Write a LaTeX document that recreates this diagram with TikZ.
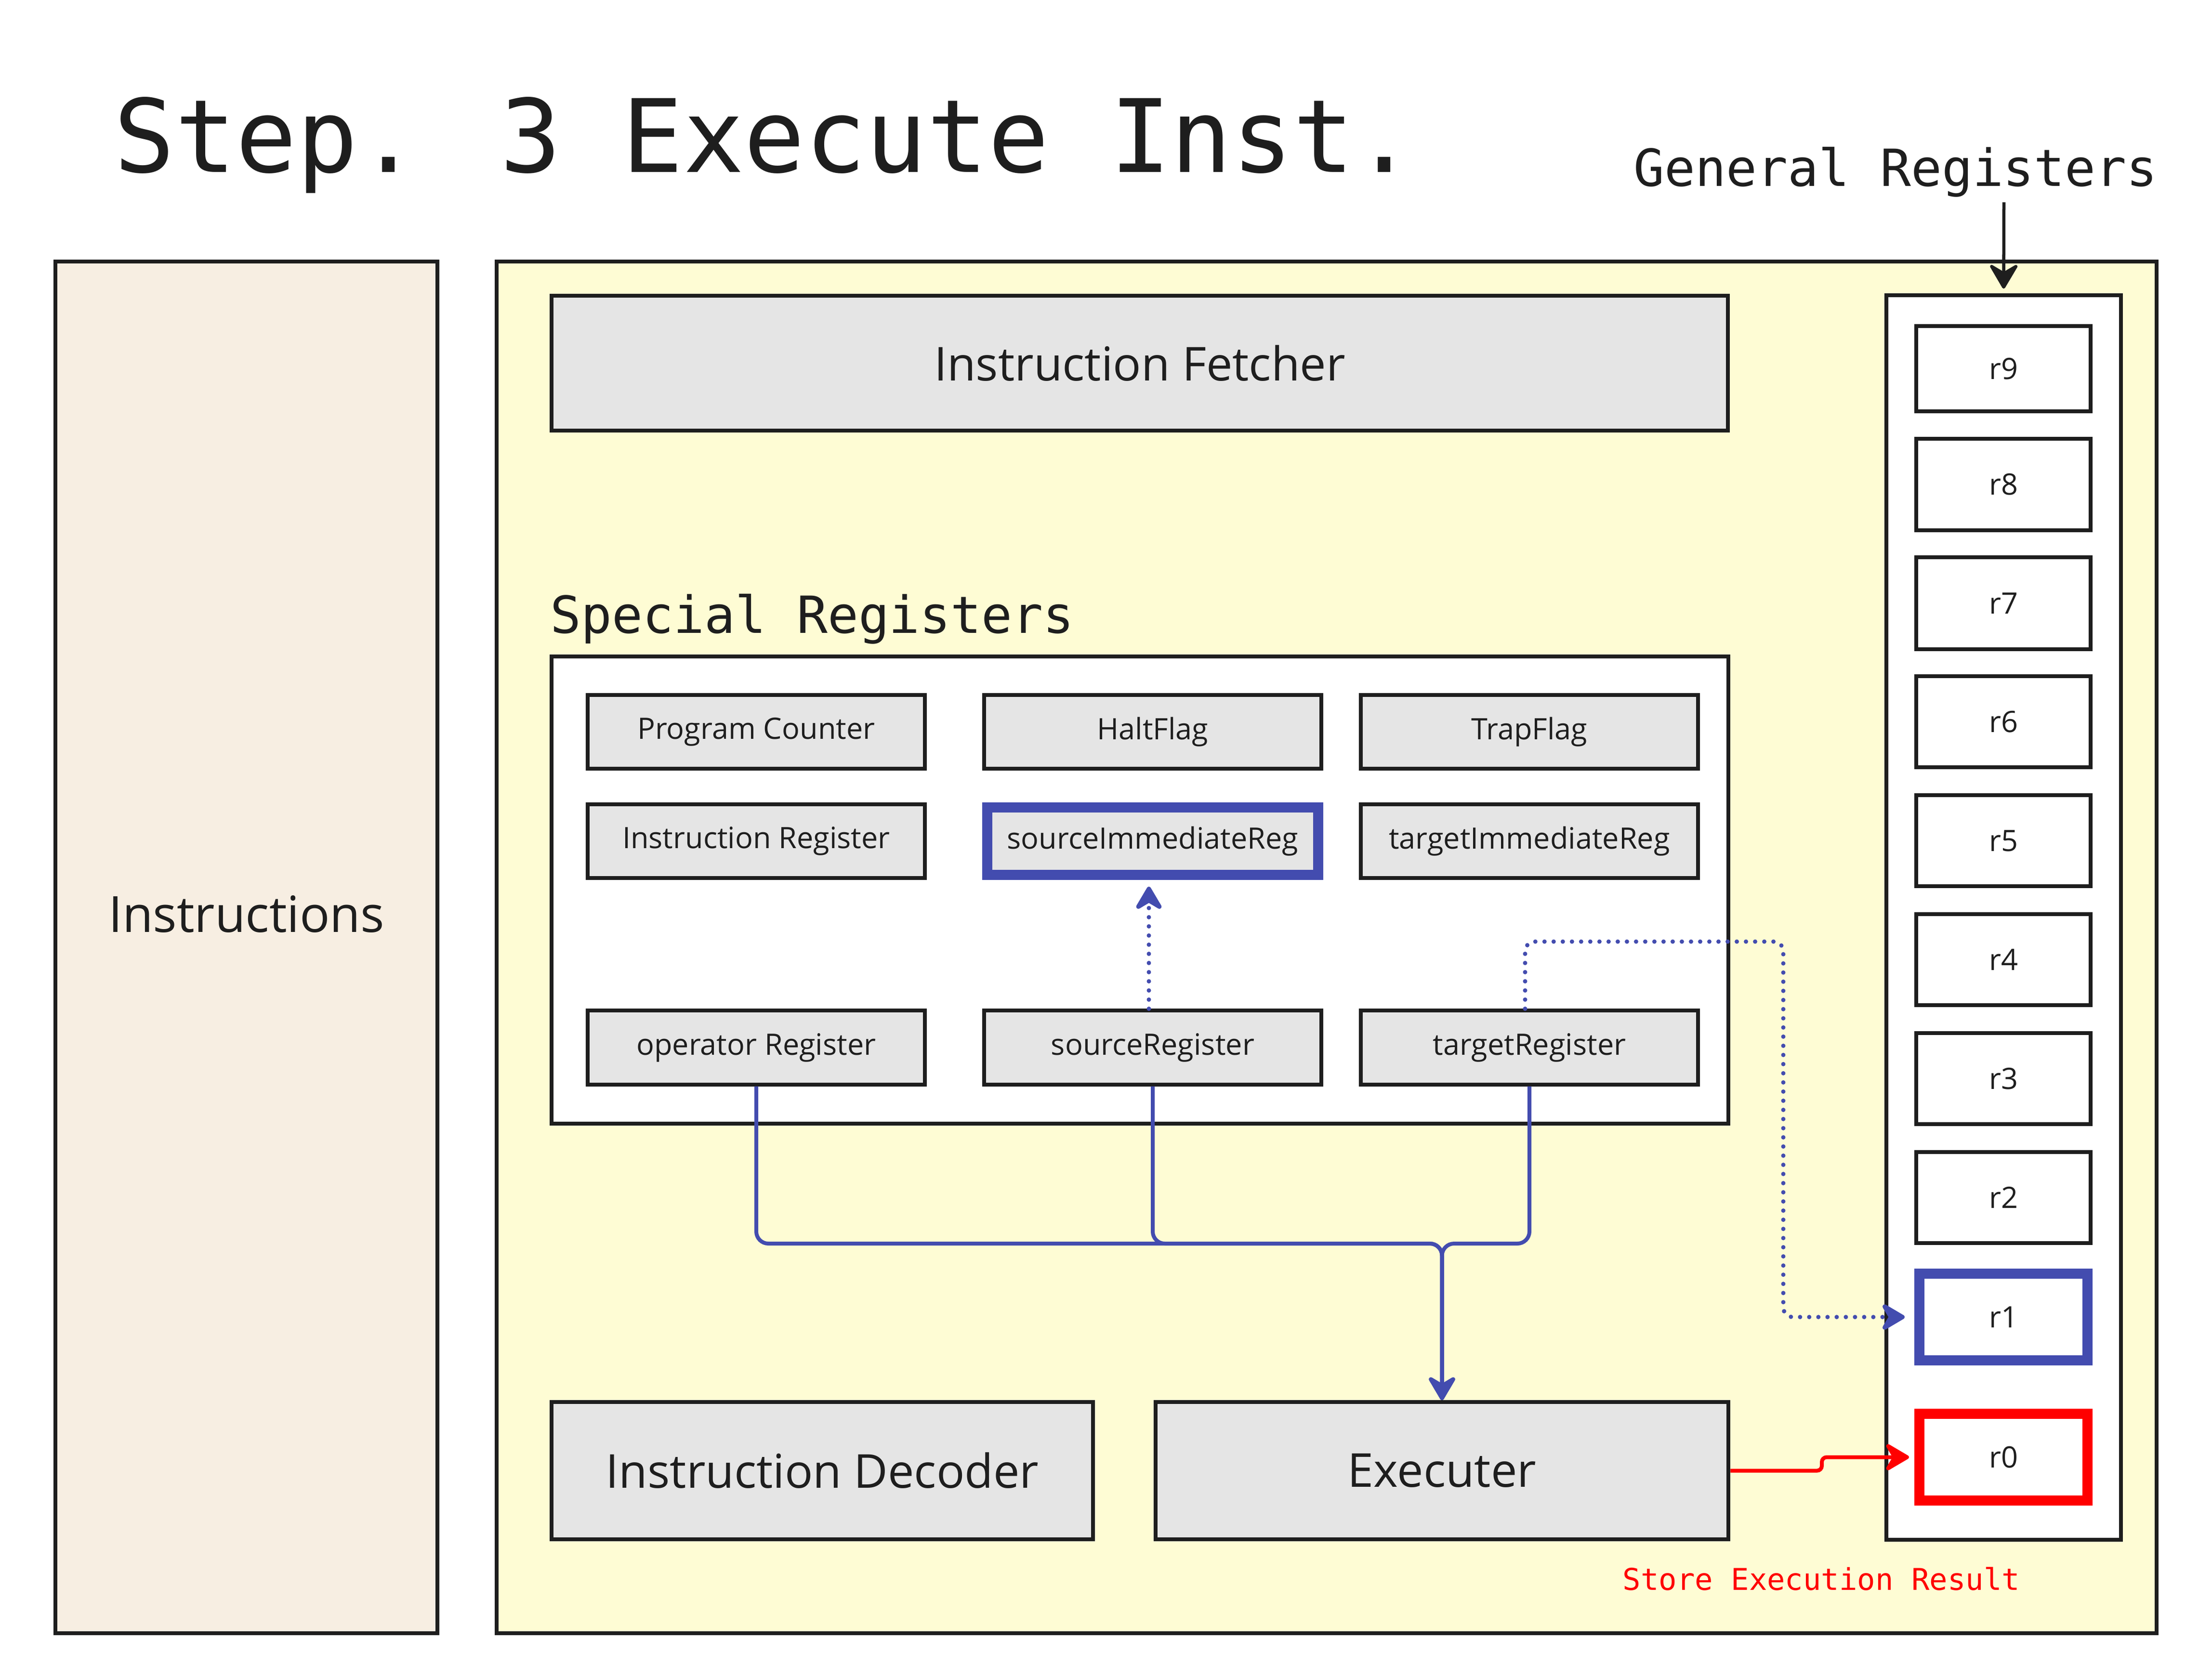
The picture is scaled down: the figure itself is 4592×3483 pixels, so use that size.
\documentclass[tikz,border=0pt]{standalone}
\usepackage{fontspec}
\setmainfont{Open Sans}
\newfontfamily\monofont{DejaVu Sans Mono}
\usetikzlibrary{arrows.meta}
\definecolor{ink}{HTML}{1E1E1E}
\definecolor{beige}{HTML}{F7EEE2}
\definecolor{pale}{HTML}{FEFCD4}
\definecolor{boxgray}{HTML}{E5E5E5}
\definecolor{regblue}{HTML}{434CAF}
\definecolor{regred}{HTML}{FF0000}
\begin{document}
\begin{tikzpicture}[x=0.01cm,y=-0.01cm,
  box/.style={draw=ink, line width=0.08cm, inner sep=0pt, text=ink},
  graybox/.style={box, fill=boxgray},
  smallbox/.style={graybox, minimum width=7.00cm, minimum height=1.53cm, font=\fontsize{17.4}{20}\selectfont},
  bigbox/.style={graybox, minimum height=2.85cm, font=\fontsize{27.6}{32}\selectfont},
  regbox/.style={box, fill=white, minimum width=3.62cm, font=\fontsize{17.4}{20}\selectfont},
  hotbox/.style={regbox, line width=0.21cm, minimum width=3.49cm, minimum height=1.80cm},
  tip/.style={-{Stealth[length=0.58cm,width=0.68cm,inset=0.2cm,round]}},
  bluesolid/.style={draw=regblue, line width=0.08cm, rounded corners=0.25cm, tip},
  bluedot/.style={draw=regblue, line width=0.09cm, line cap=round, dash pattern=on 0pt off 0.19cm, rounded corners=0.2cm, tip},
  mono/.style={inner sep=0pt, anchor=base west}
]
\useasboundingbox (0,0) rectangle (4592,3483);
\fill[white] (0,0) rectangle (4592,3483);

% titles
\node[mono, text=ink, font=\monofont\fontsize{59.8}{68}\selectfont] (title) at (236,357) {Step. 3 Execute Inst.};
\node[mono, text=ink, font=\monofont\fontsize{30.2}{34}\selectfont] (genlabel) at (3391,386) {General Registers};

% outer boxes
\node[box, fill=beige, minimum width=7.93cm, minimum height=28.46cm] (instr) at (511.5,1967) {};
\node[inner sep=0pt, text=ink, font=\fontsize{29.5}{34}\selectfont] (instrlbl) at (511.5,1898) {Instructions};
\node[box, fill=pale, minimum width=34.44cm, minimum height=28.46cm] (main) at (2754,1967) {};

\node[bigbox, minimum width=24.40cm, minimum height=2.80cm] (fetch) at (2366,754) {Instruction Fetcher};

\node[mono, text=ink, font=\monofont\fontsize{30.2}{34}\selectfont] (speclabel) at (1142,1314) {Special Registers};
\node[box, fill=white, minimum width=24.41cm, minimum height=9.70cm] (special) at (2366.5,1848) {};

% special registers
\node[smallbox] (pc) at (1570,1519.5) {Program Counter};
\node[smallbox] (halt) at (2393,1519.5) {HaltFlag};
\node[smallbox] (trap) at (3175,1519.5) {TrapFlag};
\node[smallbox] (ir) at (1570,1746.5) {Instruction Register};
\node[smallbox, draw=regblue, line width=0.21cm, minimum width=6.87cm, minimum height=1.40cm] (srcimm) at (2393,1746.5) {sourceImmediateReg};
\node[smallbox] (tgtimm) at (3175,1746.5) {targetImmediateReg};
\node[smallbox] (opreg) at (1570,2175) {operator Register};
\node[smallbox] (srcreg) at (2393,2175) {sourceRegister};
\node[smallbox] (tgtreg) at (3175,2175) {targetRegister};

% decoder / executer
\node[bigbox, minimum width=11.24cm] (decoder) at (1707,3053.5) {Instruction Decoder};
\node[bigbox, minimum width=11.89cm] (exec) at (2993.5,3053.5) {Executer};

% general registers
\node[box, fill=white, minimum width=4.87cm, minimum height=25.82cm] (genbox) at (4159.5,1905) {};
\node[regbox, minimum height=1.77cm] (r9) at (4159,765.5) {r9};
\node[regbox, minimum height=1.90cm] (r8) at (4159,1006) {r8};
\node[regbox, minimum height=1.91cm] (r7) at (4159,1252.5) {r7};
\node[regbox, minimum height=1.89cm] (r6) at (4159,1498.5) {r6};
\node[regbox, minimum height=1.89cm] (r5) at (4159,1745.5) {r5};
\node[regbox, minimum height=1.89cm] (r4) at (4159,1992.5) {r4};
\node[regbox, minimum height=1.89cm] (r3) at (4159,2239.5) {r3};
\node[regbox, minimum height=1.89cm] (r2) at (4159,2486.5) {r2};
\node[hotbox, draw=regblue] (r1) at (4159,2734.5) {r1};
\node[hotbox, draw=regred] (r0) at (4159,3025.5) {r0};

\node[mono, text=regred, font=\monofont\fontsize{17.7}{20}\selectfont] (storelbl) at (3368,3301) {Store Execution Result};

% connectors
\coordinate (garr) at (4160,420);
\draw[draw=ink, line width=0.065cm, tip, shorten >=0.1cm] (garr) -- (genbox.north);

\coordinate (bus) at (2993.5,2582);
\draw[bluesolid] (opreg.south) -- (opreg.south |- bus) -- (bus) -- (exec.north);
\draw[bluesolid] (srcreg.south) -- (srcreg.south |- bus) -- (bus) -- (exec.north);
\draw[bluesolid] (tgtreg.south) -- (tgtreg.south |- bus) -- (bus) -- (exec.north);

\draw[bluedot, shorten >=0.14cm] ([xshift=-0.08cm]srcreg.north) -- ([xshift=-0.08cm]srcimm.south);

\coordinate (tturn) at (3702,1955);
\draw[bluedot, shorten >=0.2cm] ([xshift=-0.09cm]tgtreg.north) -- ([xshift=-0.09cm]tgtreg.north |- tturn) -- (tturn) -- (tturn |- r1.west) -- (r1.west);

\coordinate (rjog) at (3782,3053.5);
\draw[draw=regred, line width=0.08cm, rounded corners=0.1cm, tip, shorten >=0.11cm] (exec.east) -- (rjog) -- (rjog |- r0.west) -- (r0.west);
\end{tikzpicture}
\end{document}
